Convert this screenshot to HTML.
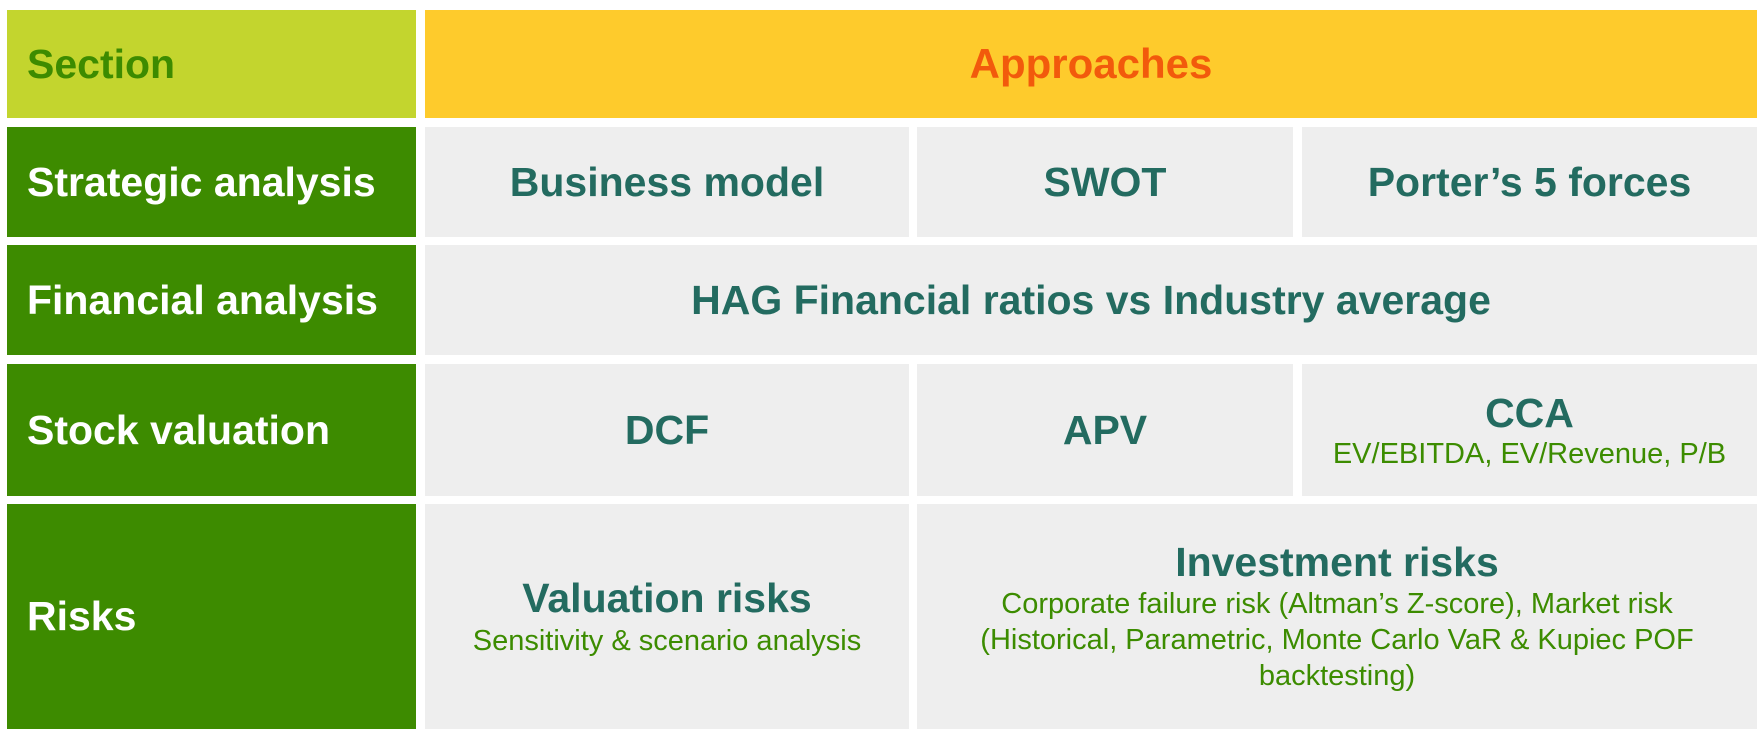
<!DOCTYPE html>
<html><head><meta charset="utf-8"><style>
html,body{margin:0;padding:0;background:#fff;width:1763px;height:733px;overflow:hidden;font-family:"Liberation Sans",sans-serif}
.c{position:absolute;display:flex;flex-direction:column;justify-content:center;align-items:center;text-align:center;box-sizing:border-box}
.sec{background:#3d8b00;color:#fff;font-weight:bold;font-size:41px;align-items:flex-start;padding-left:20px;text-align:left}
.g{background:#eeeeee;color:#236b60;font-weight:bold;font-size:41px}
.s{color:#3c8c00;font-weight:normal;font-size:29px;line-height:34px;margin-top:4px}
</style></head><body>
<div class="c" style="left:7px;top:10px;width:409px;height:108px;background:#c3d52e;color:#3d8b00;font-weight:bold;font-size:41px;align-items:flex-start;padding-left:20px">Section</div>
<div class="c" style="left:425px;top:10px;width:1332px;height:108px;background:#fecb2c;color:#f25a0c;font-weight:bold;font-size:42px">Approaches</div>

<div class="c sec" style="left:7px;top:127px;width:409px;height:110px">Strategic analysis</div>
<div class="c g" style="left:425px;top:127px;width:484px;height:110px">Business model</div>
<div class="c g" style="left:917px;top:127px;width:376px;height:110px">SWOT</div>
<div class="c g" style="left:1302px;top:127px;width:455px;height:110px">Porter’s 5 forces</div>

<div class="c sec" style="left:7px;top:245px;width:409px;height:110px">Financial analysis</div>
<div class="c g" style="left:425px;top:245px;width:1332px;height:110px">HAG Financial ratios vs Industry average</div>

<div class="c sec" style="left:7px;top:364px;width:409px;height:132px">Stock valuation</div>
<div class="c g" style="left:425px;top:364px;width:484px;height:132px">DCF</div>
<div class="c g" style="left:917px;top:364px;width:376px;height:132px">APV</div>
<div class="c g" style="left:1302px;top:364px;width:455px;height:132px"><div>CCA</div><div class="s" style="margin-top:0">EV/EBITDA, EV/Revenue, P/B</div></div>

<div class="c sec" style="left:7px;top:504px;width:409px;height:225px">Risks</div>
<div class="c g" style="left:425px;top:504px;width:484px;height:225px"><div>Valuation risks</div><div class="s" style="margin-top:2px">Sensitivity &amp; scenario analysis</div></div>
<div class="c g" style="left:917px;top:504px;width:840px;height:225px"><div>Investment risks</div><div class="s" style="margin-top:0;line-height:36px">Corporate failure risk (Altman’s Z-score), Market risk<br>(Historical, Parametric, Monte Carlo VaR &amp; Kupiec POF<br>backtesting)</div></div>
</body></html>
